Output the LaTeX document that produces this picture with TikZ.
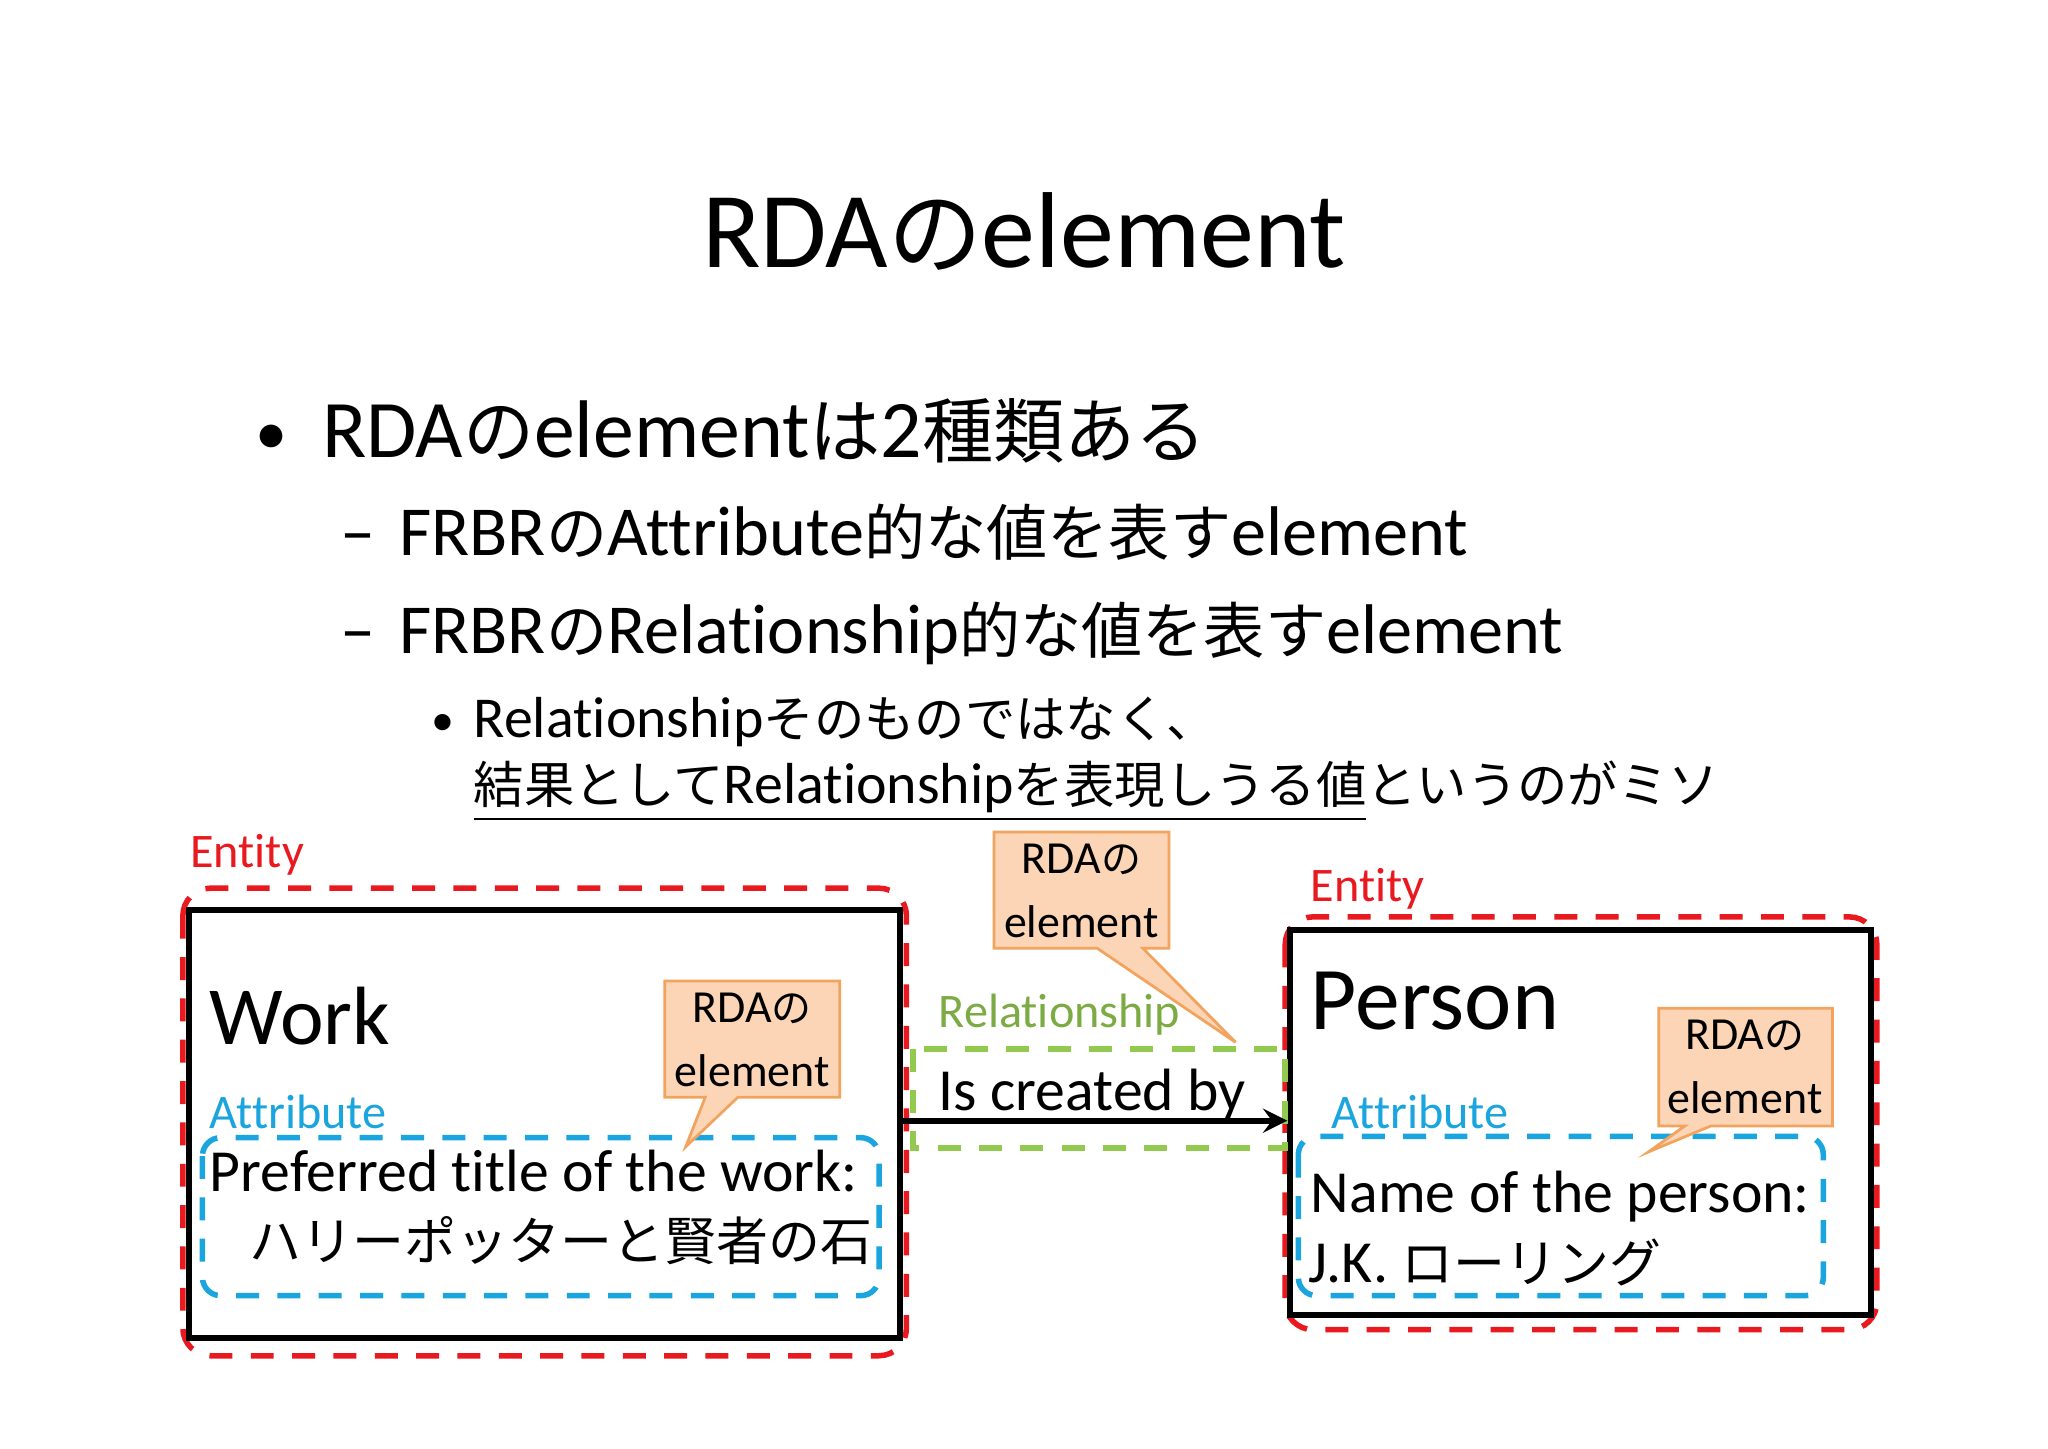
\documentclass[tikz,border=0pt]{standalone}
\usepackage{fontspec}
\setmainfont[Ligatures={NoCommon}]{Carlito}
\newfontfamily\jp[Scale=0.87]{Noto Sans CJK JP}
\newcommand{\J}[1]{{\jp #1}}
\definecolor{cred}{HTML}{E8191F}
\definecolor{cblue}{HTML}{1AA5DF}
\definecolor{cgreen}{HTML}{92C94F}
\definecolor{cpeach}{HTML}{FBD5B5}
\definecolor{cpeachb}{HTML}{F2A35E}
\begin{document}
\begin{tikzpicture}[x=0.01cm,y=-0.01cm,
  txt/.style={anchor=base west,inner sep=0pt},
  redbox/.style={draw=cred,dashed,line width=1.2pt,rounded corners=6pt,dash pattern=on 5pt off 4pt},
  bluebox/.style={draw=cblue,dashed,line width=1.2pt,rounded corners=4pt,dash pattern=on 5pt off 4pt},
  greenbox/.style={draw=cgreen,dashed,line width=1.2pt,dash pattern=on 5pt off 4pt},
  blackbox/.style={draw=black,line width=1.3pt},
  callout/.style={fill=cpeach,draw=cpeachb,line width=0.6pt},
  ctext/.style={align=center,font=\fontsize{10pt}{14pt}\selectfont,inner sep=0pt},
  lab/.style={anchor=base west,inner sep=0pt,font=\fontsize{10.5pt}{13pt}\selectfont}]
\useasboundingbox (0,0) rectangle (1568,1109);
\node[anchor=base,inner sep=0pt,font=\fontsize{23.5pt}{30pt}\selectfont] (title) at (784,205) {RDA\J{の}element};
\node[txt,font=\fontsize{14pt}{20pt}\selectfont] (b1) at (195,348) {•};
\node[txt,font=\fontsize{17.8pt}{20pt}\selectfont] (t1) at (246,350) {RDA\J{の}element\J{は}2\J{種類ある}};
\node[txt,font=\fontsize{15.3pt}{16pt}\selectfont] (d1) at (260,425) {–};
\node[txt,font=\fontsize{15.3pt}{16pt}\selectfont] (t2) at (305,425) {FRBR\J{の}Attribute\J{的な値を表す}element};
\node[txt,font=\fontsize{15.3pt}{16pt}\selectfont] (d2) at (260,500) {–};
\node[txt,font=\fontsize{15.3pt}{16pt}\selectfont] (t3) at (305,500) {FRBR\J{の}Relationship\J{的な値を表す}element};
\node[txt,font=\fontsize{10pt}{14pt}\selectfont] (b2) at (330,563) {•};
\node[txt,font=\fontsize{12.6pt}{14pt}\selectfont] (t4) at (362,565) {Relationship\J{そのものではなく、}};
\node[txt,font=\fontsize{12.6pt}{14pt}\selectfont] (t5) at (362,615) {\underline{\J{結果として}Relationship\J{を表現しうる値}}\J{というのがミソ}};
% Work
\node[lab,text=cred] (e1) at (145,664) {Entity};
\draw[redbox] (140,680) rectangle (694,1038);
\node[blackbox,minimum width=5.44cm,minimum height=3.27cm,inner sep=0pt] (work) at (417,860.5) {};
\node[txt,font=\fontsize{18pt}{24pt}\selectfont] (wt) at (160,800) {Work};
\node[lab,text=cblue] (a1) at (160,864) {Attribute};
\draw[bluebox] (155,871) rectangle (673,992);
\node[txt,font=\fontsize{13pt}{17pt}\selectfont] (wv1) at (160,912) {Preferred title of the work:};
\node[txt,font=\fontsize{13pt}{17pt}\selectfont] (wv2) at (190,965) {\J{ハリーポッターと賢者の石}};
\draw[callout] (509,751)--(643,751)--(643,840)--(565,840)--(525,878)--(540,840)--(509,840)--cycle;
\node[ctext] (c1) at (576,796) {RDA\J{の}\\element};
% Person
\node[lab,text=cred] (e2) at (1003,690) {Entity};
\draw[redbox] (984,702) rectangle (1437,1018);
\node[blackbox,minimum width=4.44cm,minimum height=2.95cm,inner sep=0pt] (person) at (1210,859.5) {};
\node[txt,font=\fontsize{19.5pt}{24pt}\selectfont] (pt) at (1003,788) {Person};
\node[lab,text=cblue] (a2) at (1019,864) {Attribute};
\draw[bluebox] (994,870) rectangle (1396,992);
\node[txt,font=\fontsize{13pt}{17pt}\selectfont] (pv1) at (1003,928) {Name of the person:};
\node[txt,font=\fontsize{13pt}{17pt}\selectfont] (pv2) at (1001,982) {J.K. \J{ローリング}};
\draw[callout] (1270,772)--(1403,772)--(1403,862)--(1310,862)--(1262,882)--(1290,862)--(1270,862)--cycle;
\node[ctext] (c2) at (1336,817) {RDA\J{の}\\element};
% Relationship
\draw[callout] (761,637)--(895,637)--(895,726)--(875,726)--(946,798)--(840,726)--(761,726)--cycle;
\node[ctext] (c3) at (828,682) {RDA\J{の}\\element};
\node[lab,text=cgreen!85!black] (rl) at (718,787) {Relationship};
\draw[greenbox] (699,803) rectangle (984,879);
\node[txt,font=\fontsize{13pt}{17pt}\selectfont] (rv) at (718,850) {Is created by};
\coordinate (ws) at (work.east |- 0,858);
\coordinate (pe) at (person.west |- 0,858);
\draw[->,line width=1.3pt,>=stealth] (ws) -- (pe);
\end{tikzpicture}
\end{document}
